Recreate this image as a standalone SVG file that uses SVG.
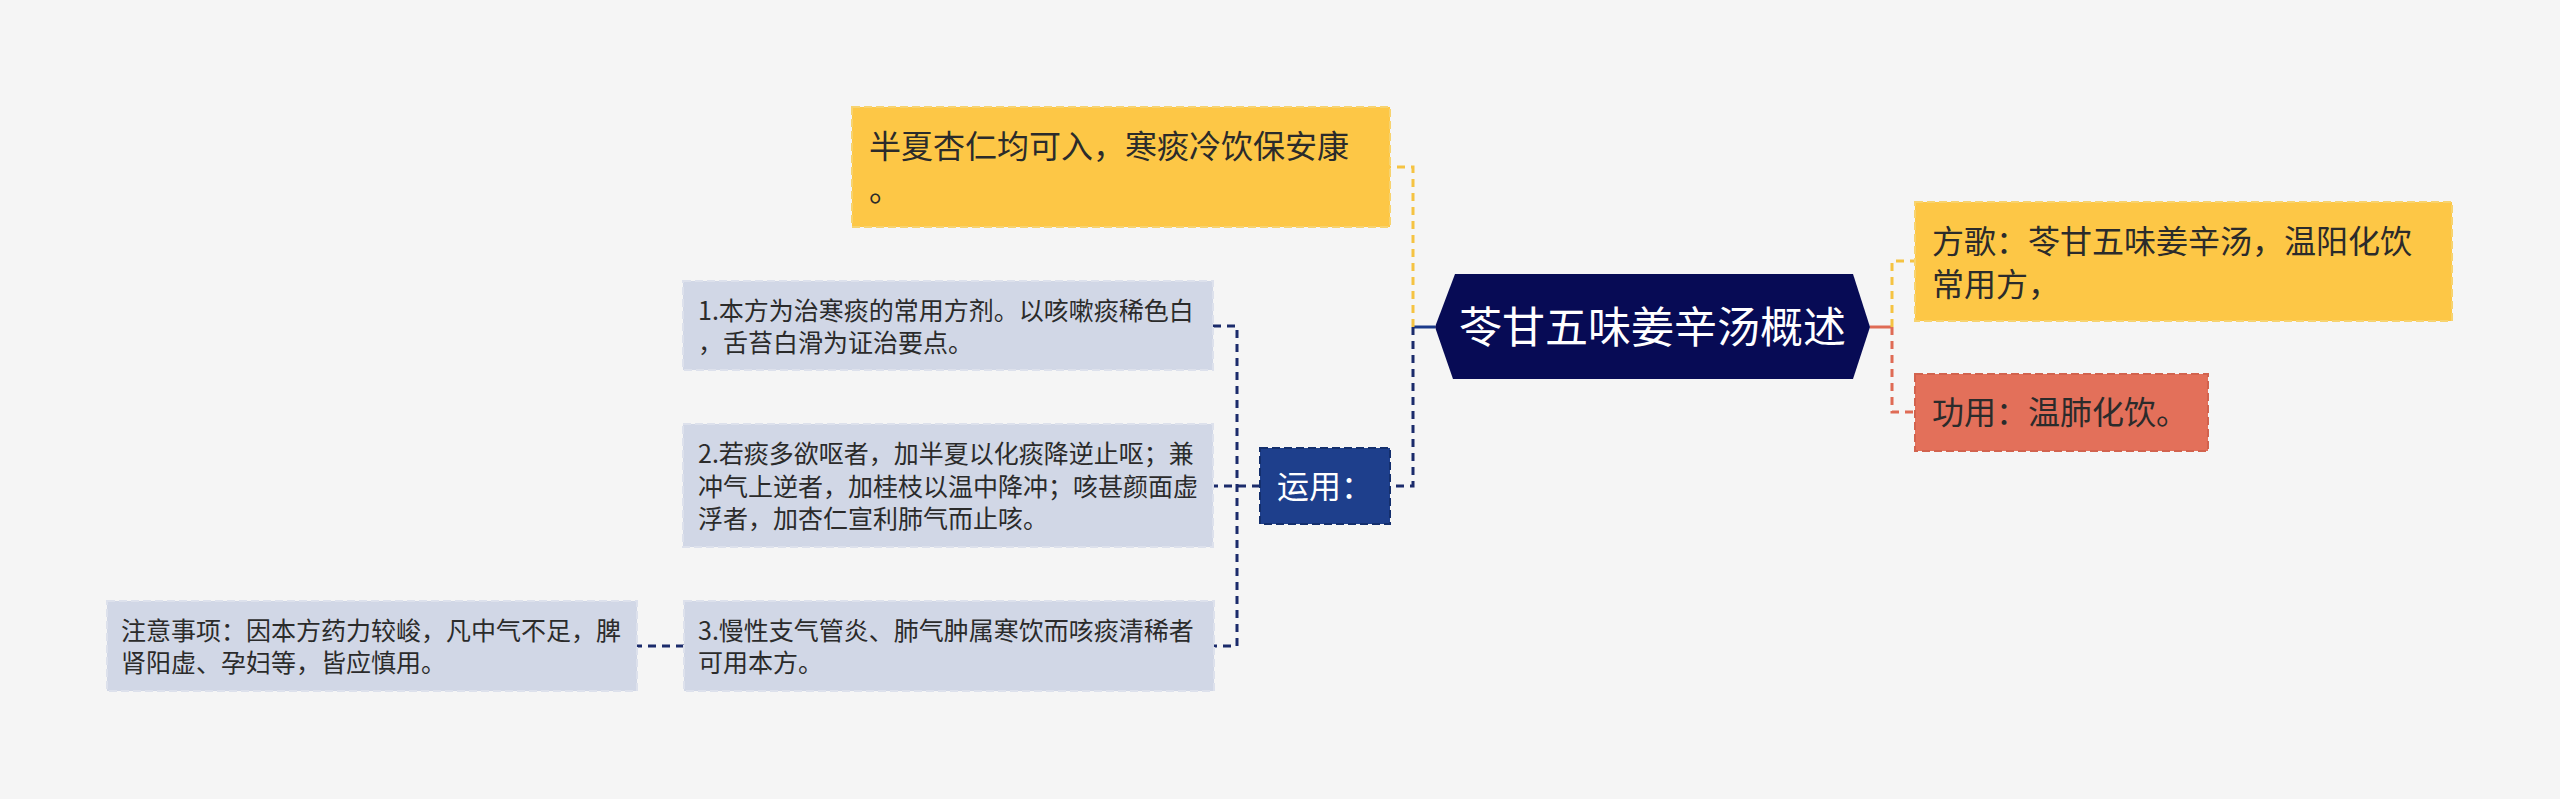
<svg xmlns="http://www.w3.org/2000/svg" width="2560" height="799" viewBox="0 0 2560 799">
<style>
text{font-family:"Noto Sans CJK SC","Noto Sans",sans-serif;}
.t{fill:#2b2b2b;}
.s{font-size:25px;}
.m{font-size:32px;}
.yb{fill:#fdc746;stroke:#f7d36f;stroke-width:2;stroke-dasharray:8 4;}
.rb{fill:#e3705a;stroke:#d2634e;stroke-width:2;stroke-dasharray:8 4;}
.lb{fill:#d1d7e6;stroke:#dde1ec;stroke-width:2;stroke-dasharray:8 4;}
.bb{fill:#1e3f8c;stroke:#142f6d;stroke-width:2;stroke-dasharray:8 4;}
.cb{fill:none;stroke:#1b2b6b;stroke-width:3;stroke-dasharray:8 6;}
.cy{fill:none;stroke:#f5c342;stroke-width:3;stroke-dasharray:8 6;}
.cr{fill:none;stroke:#df6b55;stroke-width:3;stroke-dasharray:8 6;}
</style>
<rect x="0" y="0" width="2560" height="799" fill="#f5f5f5"/>
<g id="connectors">
<line x1="1435" y1="327" x2="1413" y2="327" stroke="#1b3a8a" stroke-width="3"/>
<polyline class="cy" points="1413,327 1413,167 1390,167"/>
<polyline class="cb" points="1413,327 1413,486 1390,486"/>
<line class="cb" x1="1260" y1="486" x2="1213" y2="486"/>
<polyline class="cb" points="1213,326 1237,326 1237,646 1213,646"/>
<line class="cb" x1="684" y1="646" x2="637" y2="646"/>
<line x1="1870" y1="327" x2="1892" y2="327" stroke="#df6b55" stroke-width="3"/>
<polyline class="cy" points="1892,327 1892,261 1915,261"/>
<polyline class="cr" points="1892,327 1892,412 1915,412"/>
</g>
<g id="root">
<polygon points="1435,327 1455,274 1853,274 1870,327 1853,379 1453,379" fill="#070b55"/>
<text x="1652.5" y="343" font-size="43" fill="#ffffff" text-anchor="middle">苓甘五味姜辛汤概述</text>
</g>
<g id="n-fangge">
<rect class="yb" x="1915" y="202" width="537" height="119"/>
<text class="t m" x="1932" y="253">方歌：苓甘五味姜辛汤，温阳化饮</text>
<text class="t m" x="1932" y="296">常用方，</text>
</g>
<g id="n-gongyong">
<rect class="rb" x="1915" y="374" width="293" height="77"/>
<text class="t m" x="1932" y="424">功用：温肺化饮。</text>
</g>
<g id="n-banxia">
<rect class="yb" x="852" y="107" width="538" height="120"/>
<text class="t m" x="869" y="158">半夏杏仁均可入，寒痰冷饮保安康</text>
<text class="t m" x="869" y="201">。</text>
</g>
<g id="n-yunyong">
<rect class="bb" x="1260" y="448" width="130" height="76"/>
<text class="m" x="1277" y="498" fill="#ffffff">运用：</text>
</g>
<g id="n-1">
<rect class="lb" x="683" y="281" width="530" height="89"/>
<text class="t s" x="698" y="320">1.本方为治寒痰的常用方剂。以咳嗽痰稀色白</text>
<text class="t s" x="698" y="352">，舌苔白滑为证治要点。</text>
</g>
<g id="n-2">
<rect class="lb" x="683" y="424" width="530" height="123"/>
<text class="t s" x="698" y="463">2.若痰多欲呕者，加半夏以化痰降逆止呕；兼</text>
<text class="t s" x="698" y="495.5">冲气上逆者，加桂枝以温中降冲；咳甚颜面虚</text>
<text class="t s" x="698" y="528">浮者，加杏仁宣利肺气而止咳。</text>
</g>
<g id="n-3">
<rect class="lb" x="684" y="601" width="530" height="90"/>
<text class="t s" x="698" y="640">3.慢性支气管炎、肺气肿属寒饮而咳痰清稀者</text>
<text class="t s" x="698" y="672">可用本方。</text>
</g>
<g id="n-note">
<rect class="lb" x="107" y="601" width="530" height="90"/>
<text class="t s" x="121" y="640">注意事项：因本方药力较峻，凡中气不足，脾</text>
<text class="t s" x="121" y="672">肾阳虚、孕妇等，皆应慎用。</text>
</g>
</svg>
